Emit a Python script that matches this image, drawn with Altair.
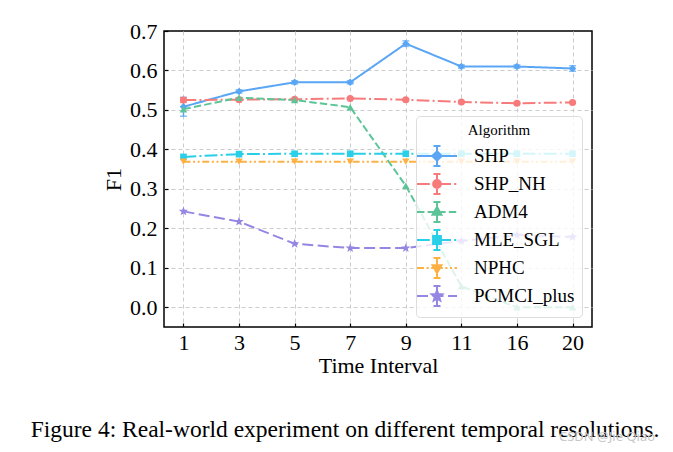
import math
import altair as alt
import pandas as pd

# ---------------- data ----------------
intervals = ["1", "3", "5", "7", "9", "11", "16", "20"]
algorithms = ["SHP", "SHP_NH", "ADM4", "MLE_SGL", "NPHC", "PCMCI_plus"]

shp = [0.508, 0.547, 0.570, 0.570, 0.668, 0.610, 0.610, 0.605]
shp_err = [0.024, 0.004, 0.004, 0.004, 0.007, 0.004, 0.004, 0.007]
shp_nh = [0.525, 0.526, 0.527, 0.529, 0.526, 0.520, 0.517, 0.519]
shp_nh_err = [0.006, 0.002, 0.002, 0.002, 0.002, 0.002, 0.002, 0.002]
adm4 = [0.502, 0.531, 0.525, 0.507, 0.308, 0.053, 0.000, 0.000]
mle_sgl = [0.381, 0.388, 0.389, 0.389, 0.389, 0.389, 0.389, 0.389]
nphc = [0.369, 0.369, 0.369, 0.369, 0.369, 0.369, 0.369, 0.369]
pcmci_plus = [0.243, 0.217, 0.161, 0.150, 0.150, 0.168, 0.183, 0.178]

series = {"SHP": shp, "SHP_NH": shp_nh, "ADM4": adm4,
          "MLE_SGL": mle_sgl, "NPHC": nphc, "PCMCI_plus": pcmci_plus}
errors = {"SHP": shp_err, "SHP_NH": shp_nh_err}

caption = "Figure 4: Real-world experiment on different temporal resolutions."
watermark_text = "CSDN @Jie Qiao"

rows = []
for alg in algorithms:
    errs = errors.get(alg, [0.0] * len(intervals))
    for iv, v, e in zip(intervals, series[alg], errs):
        rows.append({"Interval": iv, "F1": v, "Err": e, "Lo": v - e, "Hi": v + e,
                     "Algorithm": alg})
df = pd.DataFrame(rows)

# ---------------- styles ----------------
colors = ["#5aa6f5", "#f77b7b", "#5cc598", "#29cfe8", "#fdb044", "#9686e3"]
dashes = [[1, 0], [12.8, 3.2, 2, 3.2], [7.4, 3.2], [12.8, 3.2, 2, 3.2],
          [7, 2.6, 2, 2.6, 2, 2.6], [11, 4.5]]
SERIF = "Liberation Serif"


def star_path(ro, ri):
    pts = []
    for k in range(10):
        a = -math.pi / 2 + k * math.pi / 5
        rr = ro if k % 2 == 0 else ri
        pts.append(f"{rr * math.cos(a):.3f},{rr * math.sin(a):.3f}")
    return "M" + "L".join(pts) + "Z"


def circle_path(rr):
    return f"M{rr},0A{rr},{rr} 0 1,1 {-rr},0A{rr},{rr} 0 1,1 {rr},0Z"


# main chart marker shapes
marker_shapes = ["diamond", "circle", "triangle-up", "square", "triangle-down",
                 star_path(1.0, 0.42)]
marker_sizes = [56, 50, 56, 44, 56, 95]

# legend glyphs: dashed line + error bar + marker, unit = 13 px
U = 13.0
HALF = 20.0 / U


def dash_segments(pattern):
    if pattern[1] == 0:
        return f"M{-HALF:.3f},0H{HALF:.3f}"
    out = []
    x = -HALF
    i = 0
    while x < HALF:
        seg = pattern[i % len(pattern)] / U
        if i % 2 == 0:
            out.append(f"M{x:.3f},0H{min(x + seg, HALF):.3f}")
        x += seg
        i += 1
    return "".join(out)


eb = 10.0 / U
cap = 3.5 / U
errbar = f"M0,{-eb:.3f}V{eb:.3f}M{-cap:.3f},{-eb:.3f}H{cap:.3f}M{-cap:.3f},{eb:.3f}H{cap:.3f}"
r = 0.3
legend_markers = [
    f"M0,{-1.2*r:.3f}L{1.2*r:.3f},0L0,{1.2*r:.3f}L{-1.2*r:.3f},0Z",
    circle_path(r),
    f"M0,{-1.3*r:.3f}L{1.15*r:.3f},{0.7*r:.3f}L{-1.15*r:.3f},{0.7*r:.3f}Z",
    f"M{-r:.3f},{-r:.3f}H{r:.3f}V{r:.3f}H{-r:.3f}Z",
    f"M0,{1.3*r:.3f}L{1.15*r:.3f},{-0.7*r:.3f}L{-1.15*r:.3f},{-0.7*r:.3f}Z",
    star_path(1.4 * r, 0.6 * r),
]
legend_paths = [dash_segments(d) + errbar + m for d, m in zip(dashes, legend_markers)]

# ---------------- encodings ----------------
x_axis = alt.Axis(title="Time Interval", labelAngle=0, labelFont=SERIF, labelFontSize=22,
                  labelColor="black", titleFont=SERIF, titleFontSize=22,
                  titleFontWeight="normal", titleColor="black", titlePadding=2,
                  grid=True, gridDash=[4, 3], gridColor="#cccccc", gridWidth=1,
                  domain=False, ticks=True, tickSize=4, offset=-4, tickColor="black",
                  tickWidth=1.2, labelPadding=5)
y_axis = alt.Axis(title="F1", values=[0, 0.1, 0.2, 0.3, 0.4, 0.5, 0.6, 0.7], format=".1f",
                  labelFont=SERIF, labelFontSize=22, labelColor="black",
                  titleFont=SERIF, titleFontSize=22, titleFontWeight="normal",
                  titleColor="black", titlePadding=4,
                  grid=True, gridDash=[4, 3], gridColor="#cccccc", gridWidth=1,
                  gridOpacity={"condition": {"test": "datum.value > 0.69", "value": 0},
                               "value": 1},
                  domain=False, ticks=True, tickSize=4, offset=-4, tickColor="black",
                  tickWidth=1.2, labelPadding=7)

x_scale = alt.Scale(type="point", padding=0.35)
y_scale = alt.Scale(domain=[-0.05, 0.7], nice=False, zero=False)
X = alt.X("Interval:O", sort=intervals, scale=x_scale, axis=x_axis)


def Y(field):
    return alt.Y(f"{field}:Q", scale=y_scale, axis=y_axis)


# hidden colour scale of the drawn marks: domain from the data (sorted), so that
# it never merges with the visible legend built below from literal domains
def color_enc():
    return alt.Color("Algorithm:N", sort=algorithms, scale=alt.Scale(range=colors),
                     legend=None)


legend = alt.Legend(
    title="Algorithm", orient="bottom-right", offset=10,
    titleFont=SERIF, titleFontSize=15, titleFontWeight="normal", titleColor="black",
    titleAnchor="middle", titlePadding=4,
    labelFont=SERIF, labelFontSize=19, labelColor="black", labelOffset=23,
    symbolSize=676, symbolStrokeWidth=2, symbolOpacity=1,
    fillColor="rgba(255,255,255,0.8)", strokeColor="#dddddd", padding=7,
    cornerRadius=4, rowPadding=0,
)

base = alt.Chart(df)

lines = base.mark_line(strokeWidth=2).encode(
    x=X, y=Y("F1"), color=color_enc(),
    strokeDash=alt.StrokeDash("Algorithm:N", sort=algorithms,
                              scale=alt.Scale(range=dashes), legend=None),
)

err_data = base.transform_filter("datum.Err > 0")
err_rules = err_data.mark_rule(strokeWidth=1.5).encode(
    x=X, y=Y("Lo"), y2="Hi:Q", color=color_enc())
caps_lo = err_data.mark_tick(thickness=1.5, size=7).encode(x=X, y=Y("Lo"), color=color_enc())
caps_hi = err_data.mark_tick(thickness=1.5, size=7).encode(x=X, y=Y("Hi"), color=color_enc())

point_layers = []
for alg, shp_, sz in zip(algorithms, marker_shapes, marker_sizes):
    point_layers.append(
        base.transform_filter(alt.datum.Algorithm == alg)
        .mark_point(filled=True, shape=shp_, size=sz, opacity=1)
        .encode(x=X, y=Y("F1"), color=color_enc())
    )

# legend-only layer: its points sit outside the y domain and are clipped away
legend_layer = base.transform_calculate(hidden="-1").mark_point(
    filled=True, clip=True
).encode(
    x=X, y=Y("hidden"),
    fill=alt.Fill("Algorithm:N", scale=alt.Scale(domain=algorithms, range=colors), legend=legend),
    stroke=alt.Stroke("Algorithm:N", scale=alt.Scale(domain=algorithms, range=colors), legend=legend),
    shape=alt.Shape("Algorithm:N", scale=alt.Scale(domain=algorithms, range=legend_paths), legend=legend),
)

notes = alt.Chart(alt.Data(values=[{"t": caption}])).mark_text(
    font=SERIF, fontSize=23.5, color="black", align="center", baseline="middle"
).encode(text="t:N", x=alt.value(181), y=alt.value(399))

watermark = alt.Chart(alt.Data(values=[{"t": watermark_text}])).mark_text(
    font="Noto Sans", fontSize=13, color="#c8c8c8", align="left", baseline="middle"
).encode(text="t:N", x=alt.value(395), y=alt.value(406))

chart = alt.layer(
    lines, err_rules, caps_lo, caps_hi, *point_layers, legend_layer, notes, watermark
).properties(
    width=428, height=296,
    background="white",
    autosize=alt.AutoSizeParams(type="none"),
    padding={"left": 156, "top": 23, "right": 73, "bottom": 117},
).configure_view(stroke="black", strokeWidth=1.5)

chart.save("out.html", embed_options={"renderer": "svg", "actions": False})
